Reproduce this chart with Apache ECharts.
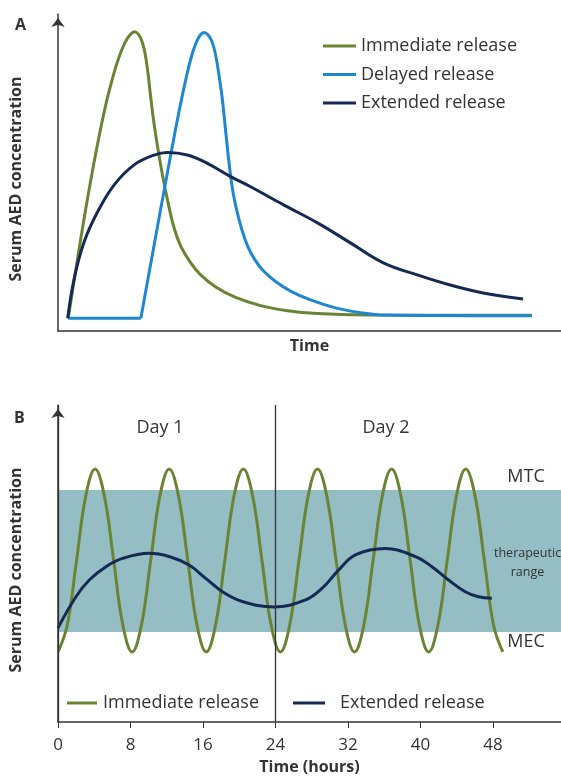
<!DOCTYPE html>
<html>
<head>
<meta charset="utf-8">
<script src="https://cdn.jsdelivr.net/npm/echarts@6/dist/echarts.min.js"></script>
<style>
  html, body { margin: 0; padding: 0; background: #fff; }
  #chart { width: 561px; height: 779px; }
</style>
</head>
<body>
<div id="chart"></div>
<script>
// panel A: time in arbitrary units (0-100), concentration 0-100
const immTimeA = [2.04, 3.97, 5.95, 7.94, 9.52, 10.91, 12.10, 13.29, 14.29, 15.28, 16.07, 16.67, 17.26, 17.86, 18.45,
  19.05, 19.84, 20.77, 21.77, 23.08, 24.40, 26.39, 28.37, 31.35, 35.32, 40.28, 45.24, 51.59, 61.51, 94.19];
const immConcA = [4.0, 23.6, 42.5, 59.6, 71.5, 80.1, 86.3, 90.9, 93.4, 94.4, 93.4, 91.5, 88.0, 81.7, 73.5,
  65.9, 57.7, 49.2, 41.3, 32.5, 26.8, 21.5, 17.7, 13.9, 10.6, 8.0, 6.5, 5.5, 5.05, 4.95];
// delayed release: flat lag phase, then absorption from lagEnd onwards
const delLagTimeA = [2.04, 16.47];
const delLagConcA = [4.0, 4.0];
const delTimeA = [16.47, 17.66, 19.05, 20.44, 21.83, 23.21, 24.40, 25.40, 26.39, 27.28, 28.17, 29.03,
  29.76, 30.56, 31.25, 31.94, 32.64, 33.33, 34.03, 34.72, 35.52, 36.51, 37.70, 39.09, 40.87, 43.25, 46.23, 50.20,
  55.16, 60.12, 65.08, 94.19];
const delConcA = [4.0, 14.4, 26.6, 38.7, 50.6, 62.3, 71.9, 79.3, 85.8, 90.2, 93.1, 94.2,
  93.5, 91.5, 87.7, 81.4, 73.5, 63.1, 52.7, 44.5, 38.2, 32.2, 26.8, 22.6, 18.9, 15.6, 12.6, 9.8,
  7.3, 5.8, 5.05, 4.8];
const extTimeA = [1.92, 3.23, 5.22, 7.88, 11.17, 15.14, 19.11, 21.77, 25.73, 29.70, 34.33, 38.29, 44.84, 51.59, 58.13, 64.68, 71.43, 77.98, 84.52, 92.46];
const extConcA = [4.0, 16.6, 28.2, 37.6, 46.1, 52.4, 55.5, 56.3, 55.5, 52.9, 48.7, 45.5, 39.8, 34.1, 27.8, 21.5, 17.7, 14.5, 12.0, 10.1];

// panel B: time in hours, concentration 0-100
const irHours = [0, 1.02, 2.05, 3.07, 4.09, 5.11, 6.14, 7.16, 8.18, 9.20, 10.23, 11.25, 12.27, 13.29, 14.32, 15.34,
  16.36, 17.38, 18.41, 19.43, 20.45, 21.47, 22.50, 23.52, 24.54, 25.56, 26.59, 27.61, 28.63, 29.65, 30.68, 31.70,
  32.72, 33.74, 34.77, 35.79, 36.81, 37.83, 38.86, 39.88, 40.90, 41.92, 42.95, 43.97, 44.99, 46.01, 47.04, 48.06, 49.08];
const irConc = [22.1, 30.5, 51.0, 71.4, 79.8, 71.4, 51.0, 30.5, 22.1, 30.5, 51.0, 71.4, 79.8, 71.4, 51.0, 30.5,
  22.1, 30.5, 51.0, 71.4, 79.8, 71.4, 51.0, 30.5, 22.1, 30.5, 51.0, 71.4, 79.8, 71.4, 51.0, 30.5,
  22.1, 30.5, 51.0, 71.4, 79.8, 71.4, 51.0, 30.5, 22.1, 30.5, 51.0, 71.4, 79.8, 71.4, 51.0, 30.5, 22.1];
const erHours = [0, 1.98, 3.45, 5.29, 7.12, 10.05, 12.26, 14.46, 16.30, 18.14, 20.34, 23.8, 27.31,
  29.15, 30.98, 32.82, 36.1, 39.43, 41.26, 43.09, 44.93, 46.39, 47.87];
const erConc = [29.7, 39.5, 44.8, 49.0, 51.6, 53.2, 52.2, 49.5, 45.3, 41.1, 38.0, 36.3, 38.5,
  42.2, 48.0, 52.7, 54.7, 52.2, 49.0, 44.8, 41.1, 39.5, 39.0];
const hourTicks = [0, 8, 16, 24, 32, 40, 48];
const dayMarks = [0, 24];
const therapeuticRange = [28.4, 73.2]; // MEC, MTC

const GREEN = '#6b8434';
const BLUE = '#1d87d0';
const NAVY = '#142a52';
const TEXT = '#333333';
const FONT = '"Open Sans", sans-serif';

function pairs(xs, ys) {
  return xs.map((x, i) => [x, ys[i]]);
}

const chart = echarts.init(document.getElementById('chart'));

const lineSeries = (name, xi, yi, xs, ys, color, smooth) => ({
  name: name,
  type: 'line',
  xAxisIndex: xi,
  yAxisIndex: yi,
  data: pairs(xs, ys),
  smooth: smooth === undefined ? 0.4 : smooth,
  symbol: 'none',
  animation: false,
  lineStyle: { color: color, width: 3 },
  itemStyle: { color: color }
});

const arrowAxisLine = {
  show: true,
  symbol: ['none', 'arrow'],
  symbolSize: [10, 9],
  symbolOffset: [0, -4],
  lineStyle: { color: TEXT, width: 1.5 }
};

const legendText = { fontSize: 18, color: TEXT, lineHeight: 18, fontFamily: FONT };
// rotated y titles sit a little lower in the reference
const yNameStyle = { fontSize: 16, fontWeight: 'bold', color: TEXT, fontFamily: FONT, padding: [0, 13, 0, 0] };

const option = {
  backgroundColor: '#fff',
  textStyle: { fontFamily: FONT },
  grid: [
    { left: 57, top: 14, width: 504, height: 317 },
    { left: 57, top: 405, width: 504, height: 317 }
  ],
  xAxis: [
    {
      gridIndex: 0, type: 'value', min: 0, max: 100,
      axisLine: { show: true, lineStyle: { color: TEXT, width: 1.5 } },
      axisTick: { show: false }, axisLabel: { show: false }, splitLine: { show: false },
      name: 'Time', nameLocation: 'middle', nameGap: 7,
      nameTextStyle: { fontSize: 16, fontWeight: 'bold', color: TEXT, fontFamily: FONT, verticalAlign: 'top' }
    },
    {
      gridIndex: 1, type: 'value', min: 0, max: 55.5,
      axisLine: { show: true, lineStyle: { color: TEXT, width: 1.5 } },
      axisTick: { show: true, customValues: hourTicks, length: 6, lineStyle: { color: TEXT } },
      axisLabel: { customValues: hourTicks, fontSize: 17, color: TEXT, margin: 15, fontFamily: FONT },
      splitLine: { show: false },
      name: 'Time (hours)', nameLocation: 'middle', nameGap: 37,
      nameTextStyle: { fontSize: 16, fontWeight: 'bold', color: TEXT, fontFamily: FONT, verticalAlign: 'top' }
    }
  ],
  yAxis: [
    {
      gridIndex: 0, type: 'value', min: 0, max: 100,
      axisLine: arrowAxisLine,
      axisTick: { show: false }, axisLabel: { show: false }, splitLine: { show: false },
      name: 'Serum AED concentration', nameLocation: 'middle', nameGap: 34, nameRotate: 90,
      nameTextStyle: yNameStyle
    },
    {
      gridIndex: 1, type: 'value', min: 0, max: 100, offset: 12,
      axisLine: arrowAxisLine,
      axisTick: { show: false }, axisLabel: { show: false }, splitLine: { show: false },
      name: 'Serum AED concentration', nameLocation: 'middle', nameGap: 22, nameRotate: 90,
      nameTextStyle: yNameStyle
    }
  ],
  legend: [
    {
      data: ['Immediate release', 'Delayed release', 'Extended release'],
      orient: 'vertical', left: 323, top: 37, itemGap: 10.5, padding: 0,
      icon: 'rect', itemWidth: 33, itemHeight: 3,
      textStyle: legendText,
      selectedMode: false
    },
    {
      data: ['Immediate release'],
      left: 67, top: 694, padding: 0,
      icon: 'rect', itemWidth: 30, itemHeight: 3,
      textStyle: Object.assign({}, legendText, { padding: [0, 0, 0, 1] }),
      selectedMode: false
    },
    {
      data: ['Extended release'],
      left: 293, top: 694, padding: 0,
      icon: 'rect', itemWidth: 32, itemHeight: 3,
      textStyle: Object.assign({}, legendText, { padding: [0, 0, 0, 10] }),
      selectedMode: false
    }
  ],
  series: [
    {
      name: 'band', type: 'line', xAxisIndex: 1, yAxisIndex: 1, data: [], z: 1,
      silent: true, animation: false,
      markArea: {
        silent: true,
        itemStyle: { color: '#94bec4', opacity: 1 },
        data: [[{ yAxis: therapeuticRange[0] }, { yAxis: therapeuticRange[1] }]]
      },
      markLine: {
        silent: true, symbol: 'none', animation: false,
        label: { show: false },
        lineStyle: { color: TEXT, width: 1.3, type: 'solid' },
        data: dayMarks.map(d => ({ xAxis: d }))
      }
    },
    lineSeries('Immediate release', 0, 0, immTimeA, immConcA, GREEN),
    lineSeries('Delayed release', 0, 0, delLagTimeA, delLagConcA, BLUE, false),
    lineSeries('Delayed release', 0, 0, delTimeA, delConcA, BLUE),
    lineSeries('Extended release', 0, 0, extTimeA, extConcA, NAVY),
    lineSeries('Immediate release', 1, 1, irHours, irConc, GREEN),
    lineSeries('Extended release', 1, 1, erHours, erConc, NAVY)
  ],
  graphic: [
    { type: 'text', left: 15, top: 17, style: { text: 'A', font: 'bold 16px ' + FONT, fill: TEXT } },
    { type: 'text', left: 14, top: 410, style: { text: 'B', font: 'bold 16px ' + FONT, fill: TEXT } },
    { type: 'text', x: 160, y: 428, style: { text: 'Day 1', font: '18px ' + FONT, fill: TEXT, align: 'center', verticalAlign: 'middle' } },
    { type: 'text', x: 386, y: 428, style: { text: 'Day 2', font: '18px ' + FONT, fill: TEXT, align: 'center', verticalAlign: 'middle' } },
    { type: 'text', x: 526, y: 477, style: { text: 'MTC', font: '18px ' + FONT, fill: TEXT, align: 'center', verticalAlign: 'middle' } },
    { type: 'text', x: 526, y: 642, style: { text: 'MEC', font: '18px ' + FONT, fill: TEXT, align: 'center', verticalAlign: 'middle' } },
    { type: 'text', x: 494, y: 553, z: 10, style: { text: 'therapeutic', font: '12.5px ' + FONT, fill: TEXT, align: 'left', verticalAlign: 'middle' } },
    { type: 'text', x: 527.5, y: 572, z: 10, style: { text: 'range', font: '12.5px ' + FONT, fill: TEXT, align: 'center', verticalAlign: 'middle' } }
  ]
};

chart.setOption(option);
</script>
</body>
</html>
